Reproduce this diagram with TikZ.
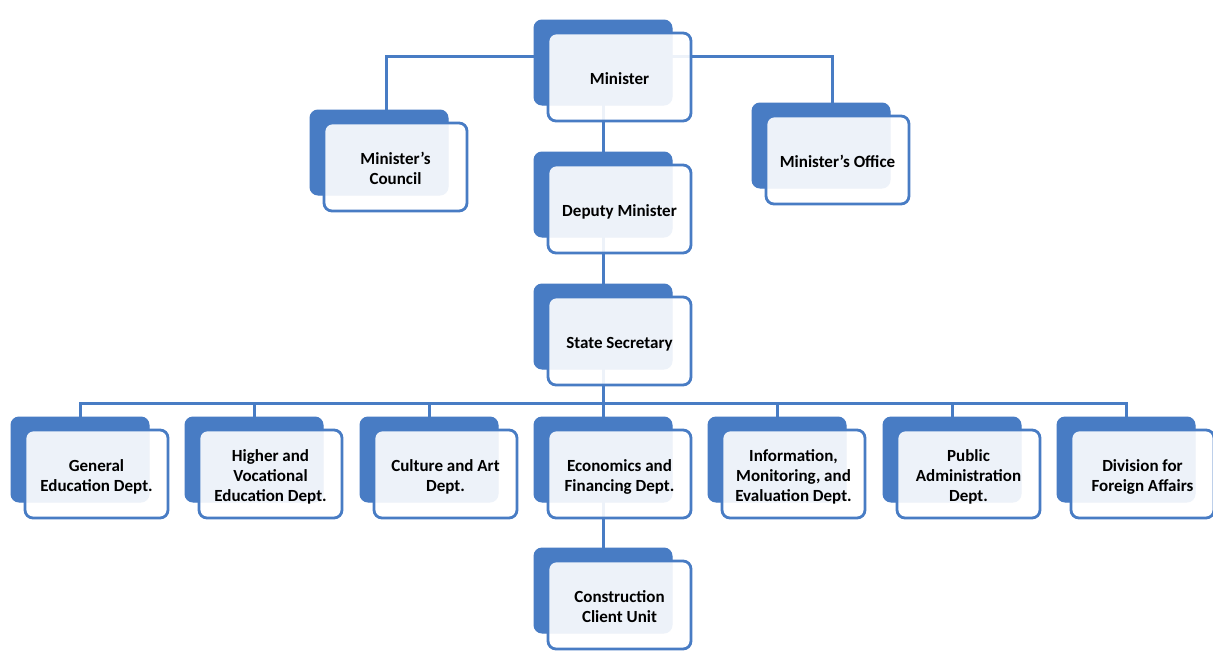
\documentclass[tikz,border=0pt]{standalone}
\usepackage{fontspec}
\setmainfont{Carlito}
\usetikzlibrary{backgrounds,calc}
\definecolor{obl}{RGB}{72,124,196}
\tikzset{
 backbox/.style={draw=obl,fill=obl,rounded corners=8pt,minimum width=138pt,minimum height=85pt,inner sep=0pt,outer sep=0pt,line width=1pt},
 frontbox/.style={draw=obl,line width=2.8pt,fill=white,fill opacity=0.9,text opacity=1,rounded corners=8pt,minimum width=143pt,minimum height=88pt,inner sep=0pt,outer sep=0pt,align=center,font=\fontsize{17}{20}\selectfont\bfseries,text=black},
 link/.style={draw=obl,line width=3pt}
}
\newcommand\orgbox[4]{%
 \node[backbox,anchor=north west] (b-#1) at (#2,#3) {};
 \node[frontbox,anchor=north west] (#1) at ($(b-#1.north west)+(14,13)$) {\raisebox{-3pt}[\height][\depth]{\begin{tabular}{@{}c@{}}#4\end{tabular}}};
}
\begin{document}
\begin{tikzpicture}[x=1pt,y=-1pt]
\useasboundingbox (0,0) rectangle (1213,651);
\orgbox{min}{534}{20}{Minister}
\orgbox{coun}{310}{110}{Minister’s\\Council}
\orgbox{off}{752}{103}{Minister’s Office}
\orgbox{dep}{534}{152}{Deputy Minister}
\orgbox{sec}{534}{284}{State Secretary}
\orgbox{gen}{11}{417}{General\\Education Dept.}
\orgbox{hig}{185}{417}{Higher and\\Vocational\\Education Dept.}
\orgbox{cul}{360}{417}{Culture and Art\\Dept.}
\orgbox{eco}{534}{417}{Economics and\\Financing Dept.}
\orgbox{inf}{708}{417}{Information,\\Monitoring, and\\Evaluation Dept.}
\orgbox{pub}{883}{417}{Public\\Administration\\Dept.}
\orgbox{div}{1057}{417}{Division for\\Foreign Affairs}
\orgbox{con}{534}{548}{Construction\\Client Unit}
\begin{pgfonlayer}{background}
\fill[white] (0,0) rectangle (1213,651);
\coordinate (mbar) at (603,56);
\coordinate (sbar) at (603,403);
\draw[link] (b-min.south) -- (b-dep.north);
\draw[link] ($(b-coun.north)+(7,0)$) |- (mbar) -| ($(b-off.north)+(11,0)$);
\draw[link] (b-dep.south) -- (b-sec.north);
\draw[link] (b-sec.south) -- (sbar);
\foreach \n in {gen,hig,cul,eco,inf,pub,div} \draw[link] (sbar) -| (b-\n.north);
\draw[link] (b-eco.south) -- (b-con.north);
\end{pgfonlayer}
\end{tikzpicture}
\end{document}
